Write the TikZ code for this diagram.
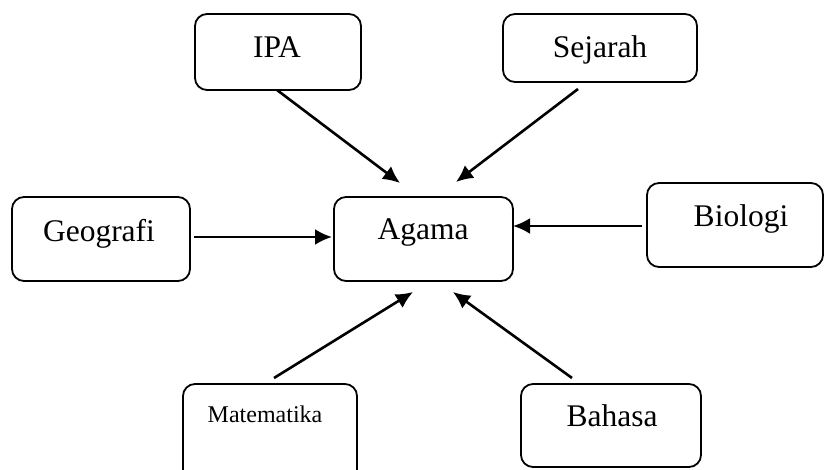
\documentclass[tikz,border=0pt]{standalone}
\usepackage{fontspec}
\setmainfont{Liberation Serif}
\usetikzlibrary{arrows.meta}
\tikzset{
  box/.style={draw=black, line width=1.8pt, rounded corners=12pt, inner sep=0pt, anchor=center},
  lbl/.style={inner sep=0pt, anchor=base, font=\fontsize{31.5}{31.5}\selectfont},
  lblsmall/.style={inner sep=0pt, anchor=base, font=\fontsize{24}{24}\selectfont},
  arr/.style={line width=2.6pt, -{Latex[length=17pt,width=16pt]}}
}
\begin{document}
\begin{tikzpicture}[x=1pt,y=-1pt]
\useasboundingbox (0,0) rectangle (825,470);
% boxes
\node[box, minimum width=166pt, minimum height=76pt] (ipa) at (278,52) {};
\node[box, minimum width=194pt, minimum height=68pt] (sej) at (600,48) {};
\node[box, minimum width=178pt, minimum height=84pt] (geo) at (101,239) {};
\node[box, minimum width=179pt, minimum height=84pt] (aga) at (423.5,239) {};
\node[box, minimum width=176pt, minimum height=84pt] (bio) at (735,225) {};
\node[box, minimum width=174pt, minimum height=110pt] (mat) at (270,439) {};
\node[box, minimum width=180pt, minimum height=83pt] (bah) at (611,425.5) {};
% labels
\node[lbl] (ipat) at (277,58) {IPA};
\node[lbl] (sejt) at (600,58) {Sejarah};
\node[lbl] (geot) at (99,242) {Geografi};
\node[lbl] (agat) at (423,240) {Agama};
\node[lbl] (biot) at (741,227) {Biologi};
\node[lblsmall] (matt) at (265,422) {Matematika};
\node[lbl] (baht) at (612,426) {Bahasa};
% connector ends
\coordinate (ipaS) at (277,90);   \coordinate (agaIpa) at (400,183);
\coordinate (sejS) at (578,89);   \coordinate (agaSej) at (456,182);
\coordinate (geoS) at (194,237);  \coordinate (agaGeo) at (332,237);
\coordinate (bioS) at (642,226);  \coordinate (agaBio) at (513,226);
\coordinate (matS) at (274,378);  \coordinate (agaMat) at (413,292);
\coordinate (bahS) at (572,378);  \coordinate (agaBah) at (453,292);
% connectors
\draw[arr] (ipaS) -- (agaIpa);
\draw[arr] (sejS) -- (agaSej);
\draw[arr] (geoS) -- (agaGeo);
\draw[arr] (bioS) -- (agaBio);
\draw[arr] (matS) -- (agaMat);
\draw[arr] (bahS) -- (agaBah);
\end{tikzpicture}
\end{document}
